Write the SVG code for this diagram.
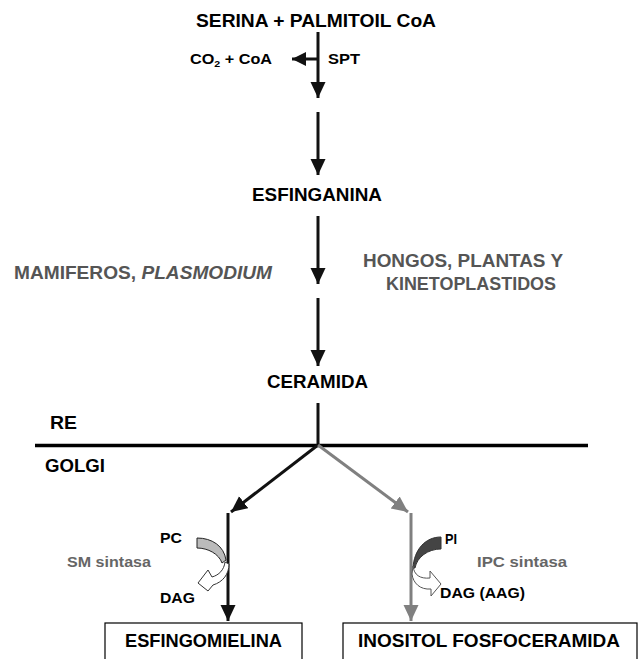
<svg xmlns="http://www.w3.org/2000/svg" width="639" height="659" viewBox="0 0 639 659">
<defs>
<style>
text{font-family:"Liberation Sans",Arial,sans-serif;font-weight:bold;}
.big{font-size:18px;fill:#000;}
.sm{font-size:14.5px;fill:#000;}
.grey{font-size:18px;fill:#555;}
.enz{font-size:15px;fill:#666;}
.blk{stroke:#111;stroke-width:3;fill:none;}
.gry{stroke:#808080;stroke-width:3;fill:none;}
</style>
<marker id="ah" markerUnits="userSpaceOnUse" markerWidth="16" markerHeight="16" refX="16" refY="7.5" orient="auto"><path d="M0,0 L16,7.5 L0,15 z" fill="#111"/></marker>
<marker id="ahg" markerUnits="userSpaceOnUse" markerWidth="16" markerHeight="16" refX="16" refY="7.5" orient="auto"><path d="M0,0 L16,7.5 L0,15 z" fill="#808080"/></marker>
<marker id="ahs" markerUnits="userSpaceOnUse" markerWidth="14" markerHeight="14" refX="14" refY="7" orient="auto"><path d="M0,0 L14,7 L0,14 z" fill="#111"/></marker>
</defs>
<g id="connectors">
<line class="blk" x1="318" y1="32" x2="318" y2="98" marker-end="url(#ah)"/>
<line class="blk" x1="318" y1="59" x2="292" y2="59" marker-end="url(#ahs)"/>
<line class="blk" x1="318" y1="112" x2="318" y2="175" marker-end="url(#ah)"/>
<line class="blk" x1="318" y1="216" x2="318" y2="284" marker-end="url(#ah)"/>
<line class="blk" x1="318" y1="298" x2="318" y2="366" marker-end="url(#ah)"/>
<line class="blk" x1="318" y1="403" x2="318" y2="445"/>
<line x1="35" y1="445.5" x2="588" y2="445.5" stroke="#000" stroke-width="3.5"/>
<line class="blk" x1="318" y1="445" x2="231" y2="512" marker-end="url(#ah)"/>
<line class="gry" x1="318" y1="445" x2="408" y2="512" marker-end="url(#ahg)"/>
<line class="blk" x1="228" y1="513" x2="228" y2="621" marker-end="url(#ah)"/>
<line class="gry" x1="411" y1="513" x2="411" y2="621" marker-end="url(#ahg)"/>
<path d="M197,538 C212,538 224,546 226,560 L222,563 C219,554 208,548 197,548 Z" fill="#bbb" stroke="#222" stroke-width="1"/>
<path d="M225,562 C224,570 219,575 212,577 L208,570 L198,583 L208,591 L213,585 C223,582 229,574 229,564 Z" fill="#fff" stroke="#333" stroke-width="1"/>
<path d="M441,537 C425,537 414,550 413,568 L415,568 C417,557 428,549 441,549 Z" fill="#444" stroke="#333" stroke-width="1"/>
<path d="M413,566 C414,575 420,579 430,578 L430,571 L441,584 L431,596 L431,589 C420,590 413,583 412,574 Z" fill="#fff" stroke="#555" stroke-width="1"/>
</g>
<g id="serina"><text class="big" x="196" y="27" font-size="18.5" textLength="240" lengthAdjust="spacingAndGlyphs">SERINA + PALMITOIL CoA</text></g>
<g id="co2"><text class="sm" x="190" y="64" textLength="82" lengthAdjust="spacingAndGlyphs">CO<tspan font-size="9.5" dy="3">2</tspan><tspan dy="-3"> + CoA</tspan></text></g>
<g id="spt"><text class="sm" x="328" y="64" fill="#777" textLength="32" lengthAdjust="spacingAndGlyphs">SPT</text></g>
<g id="esfinganina"><text class="big" x="252" y="201" textLength="130" lengthAdjust="spacingAndGlyphs">ESFINGANINA</text></g>
<g id="mamiferos"><text class="grey" x="14" y="279" textLength="258" lengthAdjust="spacingAndGlyphs">MAMIFEROS, <tspan font-style="italic">PLASMODIUM</tspan></text></g>
<g id="hongos"><text class="grey" x="363" y="267" textLength="200" lengthAdjust="spacingAndGlyphs">HONGOS, PLANTAS Y</text><text class="grey" x="386" y="290" textLength="170" lengthAdjust="spacingAndGlyphs">KINETOPLASTIDOS</text></g>
<g id="ceramida"><text class="big" x="267" y="388" textLength="101" lengthAdjust="spacingAndGlyphs">CERAMIDA</text></g>
<g id="re"><text class="big" x="50" y="429" font-size="17.5" textLength="27" lengthAdjust="spacingAndGlyphs">RE</text></g>
<g id="golgi"><text class="big" x="45" y="472" font-size="18.5" textLength="60" lengthAdjust="spacingAndGlyphs">GOLGI</text></g>
<g id="pc"><text class="sm" x="160" y="543" textLength="22" lengthAdjust="spacingAndGlyphs">PC</text></g>
<g id="smsintasa"><text class="enz" x="67" y="567" textLength="84" lengthAdjust="spacingAndGlyphs">SM sintasa</text></g>
<g id="dag"><text class="sm" x="160" y="603" textLength="35" lengthAdjust="spacingAndGlyphs">DAG</text></g>
<g id="pi"><text class="sm" x="445" y="544" textLength="12" lengthAdjust="spacingAndGlyphs">PI</text></g>
<g id="ipcsintasa"><text class="enz" x="477" y="567" textLength="90" lengthAdjust="spacingAndGlyphs">IPC sintasa</text></g>
<g id="dagaag"><text class="sm" x="440" y="598" textLength="85" lengthAdjust="spacingAndGlyphs">DAG (AAG)</text></g>
<g id="esfingomielina"><rect x="105" y="623" width="197" height="45" fill="#fff" stroke="#000" stroke-width="1.2"/><text class="big" x="125" y="647" font-size="19.5" textLength="157" lengthAdjust="spacingAndGlyphs">ESFINGOMIELINA</text></g>
<g id="inositol"><rect x="343" y="623" width="294" height="45" fill="#fff" stroke="#000" stroke-width="1.2"/><text class="big" x="358" y="647" font-size="19.5" textLength="262" lengthAdjust="spacingAndGlyphs">INOSITOL FOSFOCERAMIDA</text></g>
</svg>
